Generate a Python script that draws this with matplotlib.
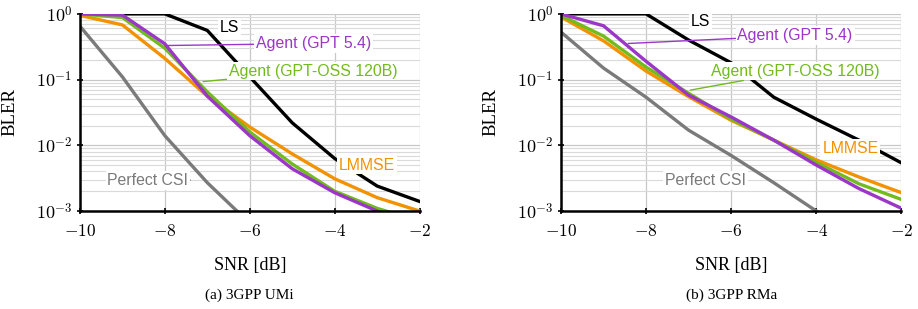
import numpy as np
import matplotlib
matplotlib.use("Agg")
import matplotlib.pyplot as plt
from matplotlib.ticker import FixedLocator, LogLocator, NullFormatter

plt.rcParams['mathtext.fontset'] = 'cm'
plt.rcParams['font.family'] = ['Liberation Serif', 'DejaVu Serif']

# SNR 轴
snr = [-10, -9, -8, -7, -6, -5, -4, -3, -2]

# (a) 3GPP UMi
umi_perfect = [0.65, 0.11, 0.014, 0.0027, 0.00065, 0.0002, 0.0001, 0.00005, 0.00003]
umi_ls = [1.0, 1.0, 1.0, 0.56, 0.11, 0.022, 0.0063, 0.0024, 0.0014]
umi_lmmse = [0.95, 0.68, 0.21, 0.056, 0.019, 0.0074, 0.0031, 0.0016, 0.001]
umi_oss = [1.0, 0.88, 0.30, 0.065, 0.016, 0.0052, 0.002, 0.0011, 0.0007]
umi_gpt = [1.0, 0.96, 0.35, 0.056, 0.014, 0.0044, 0.0019, 0.001, 0.0005]

# (b) 3GPP RMa
rma_perfect = [0.53, 0.15, 0.054, 0.017, 0.007, 0.0027, 0.001, 0.0004, 0.0002]
rma_ls = [1.0, 1.0, 1.0, 0.40, 0.18, 0.054, 0.025, 0.012, 0.0054]
rma_lmmse = [0.90, 0.39, 0.135, 0.055, 0.024, 0.012, 0.006, 0.0033, 0.0019]
rma_oss = [0.95, 0.46, 0.155, 0.062, 0.025, 0.012, 0.0055, 0.0026, 0.0015]
rma_gpt = [1.0, 0.66, 0.19, 0.058, 0.027, 0.012, 0.005, 0.0022, 0.0011]

c_black = '#000000'
c_gray = '#7a7a7a'
c_orange = '#f39200'
c_green = '#72bb1c'
c_purple = '#9b36c8'

fig = plt.figure(figsize=(9.18, 3.09), dpi=100)
ax1 = fig.add_axes([0.0871, 0.317, 0.370, 0.638])
ax2 = fig.add_axes([0.611, 0.317, 0.371, 0.638])

panels = [
    (ax1, umi_perfect, umi_ls, umi_lmmse, umi_oss, umi_gpt, '(a) 3GPP UMi',
     # 标签位置: (文字x, 文字y, 引线起点x, 起点y)
     {'LS': (-6.47, 10**-0.2, None, None),
      'GPT': (-4.5, 10**-0.45, -8.0, 0.33),
      'OSS': (-4.5, 10**-0.87, -7.1, 10**-1.03),
      'LMMSE': (-3.25, 10**-2.3, None, None),
      'PCSI': (-8.4, 10**-2.53, -7.4, 10**-2.53)}),
    (ax2, rma_perfect, rma_ls, rma_lmmse, rma_oss, rma_gpt, '(b) 3GPP RMa',
     {'LS': (-6.73, 10**-0.12, None, None),
      'GPT': (-4.5, 10**-0.33, -8.42, 10**-0.45),
      'OSS': (-4.5, 10**-0.87, -6.96, 10**-1.16),
      'LMMSE': (-3.2, 10**-2.05, None, None),
      'PCSI': (-6.6, 10**-2.53, None, None)}),
]

for ax, pcsi, ls, lmmse, oss, gpt, caption, lab in panels:
    lw = 2.4
    ax.plot(snr, pcsi, color=c_gray, lw=lw, zorder=3)
    ax.plot(snr, ls, color=c_black, lw=lw, zorder=3)
    ax.plot(snr, lmmse, color=c_orange, lw=lw, zorder=3)
    ax.plot(snr, oss, color=c_green, lw=lw, zorder=4)
    ax.plot(snr, gpt, color=c_purple, lw=lw, zorder=5)

    ax.set_yscale('log')
    ax.set_xlim(-10, -2)
    ax.set_ylim(1e-3, 1)

    ax.xaxis.set_major_locator(FixedLocator([-10, -8, -6, -4, -2]))
    ax.set_xticklabels([r'$-10$', r'$-8$', r'$-6$', r'$-4$', r'$-2$'], fontsize=12.5)
    ax.yaxis.set_major_locator(FixedLocator([1e-3, 1e-2, 1e-1, 1]))
    ax.set_yticklabels([r'$10^{-3}$', r'$10^{-2}$', r'$10^{-1}$', r'$10^{0}$'], fontsize=13)
    ax.yaxis.set_minor_locator(LogLocator(base=10, subs=np.arange(2, 10), numticks=20))
    ax.yaxis.set_minor_formatter(NullFormatter())

    ax.grid(True, which='major', color='#c8c8c8', lw=0.9, zorder=0)
    ax.grid(True, which='minor', axis='y', color='#dadada', lw=0.8, zorder=0)
    ax.tick_params(axis='both', which='major', direction='inout', length=5, width=1.2, pad=3)
    ax.tick_params(axis='x', which='major', pad=7)
    ax.tick_params(axis='y', which='minor', length=0)
    for s in ['top', 'right']:
        ax.spines[s].set_visible(False)
    for s in ['left', 'bottom']:
        ax.spines[s].set_linewidth(1.8)
        ax.spines[s].set_zorder(6)

    ax.set_ylabel('BLER', fontsize=13.5)
    ax.yaxis.set_label_coords(-0.18, 0.5)
    ax.set_xlabel('SNR [dB]', fontsize=13)
    ax.xaxis.set_label_coords(0.5, -0.235)
    ax.text(0.5, -0.426, caption, transform=ax.transAxes, ha='center', va='center', fontsize=11)

    box = dict(boxstyle='square,pad=0.12', fc='white', ec='none')
    sans = ['Liberation Sans', 'DejaVu Sans']
    items = [('LS', 'LS', c_black), ('GPT', 'Agent (GPT 5.4)', c_purple),
             ('OSS', 'Agent (GPT-OSS 120B)', c_green), ('LMMSE', 'LMMSE', c_orange),
             ('PCSI', 'Perfect CSI', c_gray)]
    for key, txt, col in items:
        tx, ty, px, py = lab[key]
        if px is None:
            ax.text(tx, ty, txt, color=col, fontsize=11.4, family=sans,
                    ha='center', va='center', bbox=box, zorder=7)
        else:
            ax.annotate(txt, xy=(px, py), xytext=(tx, ty), color=col, fontsize=11.4,
                        family=sans, ha='center', va='center', bbox=box, zorder=7,
                        arrowprops=dict(arrowstyle='-', color=col, lw=1.0,
                                        shrinkA=0, shrinkB=0))

fig.savefig('out.png', dpi=100)
